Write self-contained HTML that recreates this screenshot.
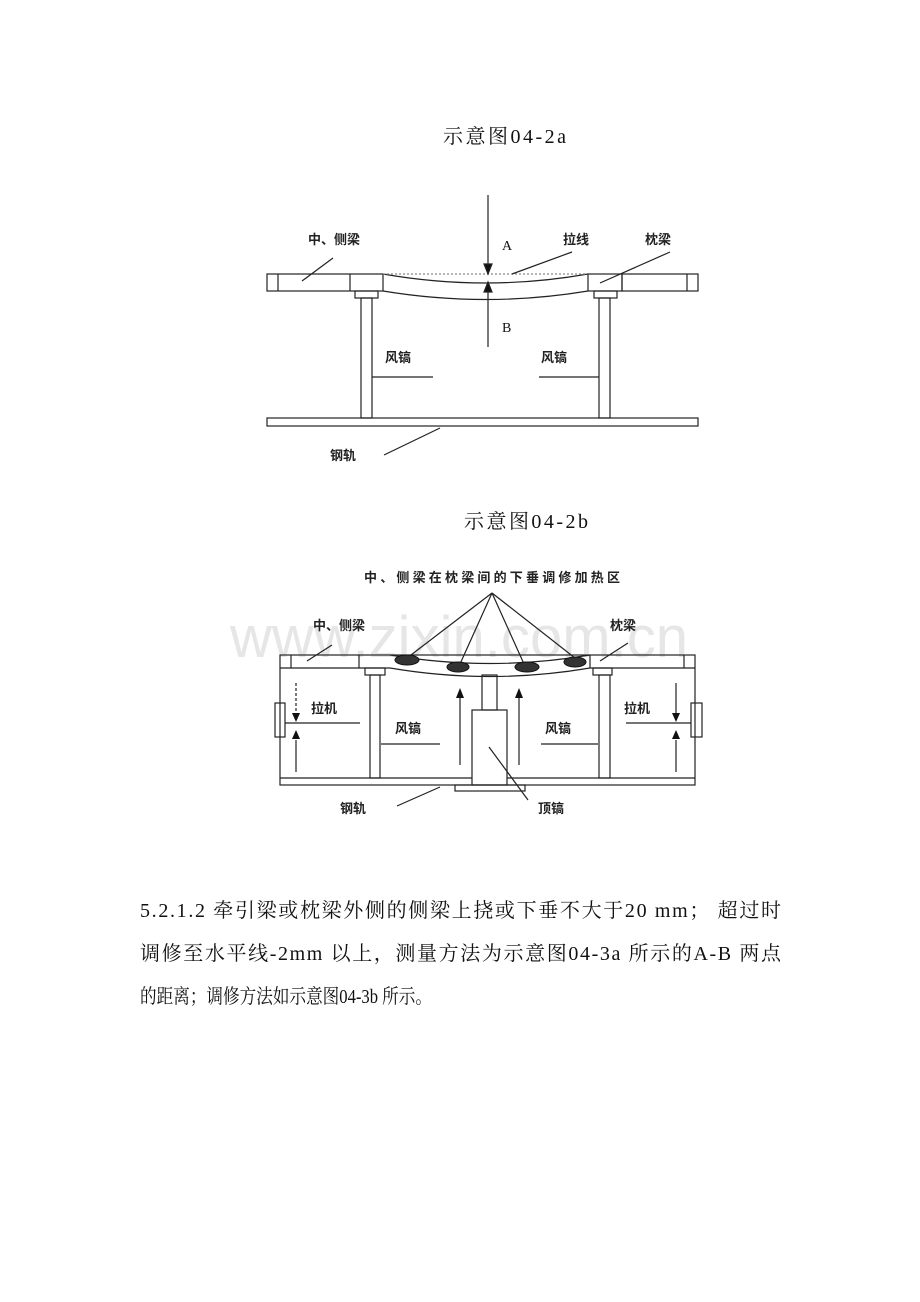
<!DOCTYPE html>
<html><head><meta charset="utf-8"><style>
html,body{margin:0;padding:0;background:#fff;}
svg{display:block;}
.t{font-family:"Liberation Serif","Noto Sans CJK SC",sans-serif;fill:#111;}
.p{font-family:"Liberation Serif","Noto Serif CJK SC",serif;fill:#111;font-size:20px;}
.s{font-family:"Liberation Sans","Noto Sans CJK SC",sans-serif;fill:#222;font-size:13px;font-weight:bold;}
</style></head><body>
<svg width="920" height="1302" viewBox="0 0 920 1302" xmlns="http://www.w3.org/2000/svg">
<text class="p" x="443" y="143" textLength="123">示意图04-2a</text>

<!-- Diagram a -->
<g stroke="#222" stroke-width="1.2" fill="none">
<rect x="267" y="274" width="116" height="17"/>
<line x1="278" y1="274" x2="278" y2="291"/><line x1="350" y1="274" x2="350" y2="291"/>
<rect x="355" y="291" width="23" height="7"/>
<path d="M383,274 Q486,292 588,274"/>
<path d="M383,291 Q486,308 588,291"/>
<line x1="383" y1="274" x2="588" y2="274" stroke-dasharray="2,2" stroke="#888"/>
<rect x="588" y="274" width="34" height="17"/>
<rect x="622" y="274" width="76" height="17"/>
<line x1="687" y1="274" x2="687" y2="291"/>
<rect x="594" y="291" width="23" height="7"/>
<rect x="361" y="298" width="11" height="120"/>
<rect x="599" y="298" width="11" height="120"/>
<rect x="267" y="418" width="431" height="8"/>
<line x1="488" y1="195" x2="488" y2="266"/>
<path d="M484,264 L492,264 L488,274 z" fill="#111"/>
<line x1="488" y1="290" x2="488" y2="347"/>
<path d="M484,292 L492,292 L488,282 z" fill="#111"/>
<line x1="333" y1="258" x2="302" y2="281"/>
<line x1="572" y1="252" x2="512" y2="274"/>
<line x1="670" y1="252" x2="600" y2="283"/>
<line x1="384" y1="455" x2="440" y2="428"/>
<line x1="372" y1="377" x2="433" y2="377"/>
<line x1="539" y1="377" x2="599" y2="377"/>
</g>
<text class="s" x="308" y="244">中、侧梁</text>
<text class="t" x="502" y="250" font-size="14">A</text>
<text class="t" x="502" y="332" font-size="14">B</text>
<text class="s" x="563" y="244">拉线</text>
<text class="s" x="645" y="244">枕梁</text>
<text class="s" x="385" y="362">风镐</text>
<text class="s" x="541" y="362">风镐</text>
<text class="s" x="330" y="460">钢轨</text>

<text class="p" x="464" y="528" textLength="124">示意图04-2b</text>

<!-- watermark -->
<text x="230" y="657" font-family="Liberation Sans,sans-serif" font-size="58" fill="#e6e6e6" textLength="458">www.zixin.com.cn</text>

<!-- Diagram b -->
<text class="s" x="364" y="582" textLength="256">中、侧梁在枕梁间的下垂调修加热区</text>
<g stroke="#222" stroke-width="1.2" fill="none">
<rect x="280" y="655" width="415" height="130"/>
<line x1="280" y1="668" x2="390" y2="668"/>
<line x1="590" y1="668" x2="695" y2="668"/>
<line x1="291" y1="655" x2="291" y2="668"/><line x1="359" y1="655" x2="359" y2="668"/>
<line x1="590" y1="655" x2="590" y2="668"/><line x1="684" y1="655" x2="684" y2="668"/>
<path d="M390,655 Q490,672 590,655"/>
<path d="M390,668 Q490,685 590,668"/>
<rect x="365" y="668" width="20" height="7"/>
<rect x="593" y="668" width="19" height="7"/>
<rect x="370" y="675" width="10" height="103"/>
<rect x="599" y="675" width="11" height="103"/>
<line x1="280" y1="778" x2="472" y2="778"/><line x1="507" y1="778" x2="695" y2="778"/>
<rect x="482" y="675" width="15" height="35"/>
<rect x="472" y="710" width="35" height="75"/>
<rect x="455" y="785" width="70" height="6"/>
<line x1="492" y1="593" x2="407" y2="658"/>
<line x1="492" y1="593" x2="460" y2="664"/>
<line x1="492" y1="593" x2="524" y2="664"/>
<line x1="492" y1="593" x2="575" y2="658"/>
<rect x="275" y="703" width="10" height="34"/>
<rect x="691" y="703" width="11" height="34"/>
<line x1="285" y1="723" x2="360" y2="723"/>
<line x1="626" y1="723" x2="691" y2="723"/>
<line x1="296" y1="683" x2="296" y2="714" stroke-dasharray="3,2"/>
<line x1="296" y1="740" x2="296" y2="772"/>
<line x1="676" y1="683" x2="676" y2="714"/>
<line x1="676" y1="740" x2="676" y2="772"/>
<line x1="460" y1="698" x2="460" y2="765"/>
<line x1="519" y1="698" x2="519" y2="765"/>
<line x1="381" y1="744" x2="440" y2="744"/>
<line x1="541" y1="744" x2="598" y2="744"/>
<line x1="332" y1="645" x2="307" y2="661"/>
<line x1="628" y1="643" x2="600" y2="661"/>
<line x1="397" y1="806" x2="440" y2="787"/>
<line x1="489" y1="747" x2="528" y2="800"/>
</g>
<g fill="#111">
<path d="M292,713 L300,713 L296,722 z"/><path d="M292,739 L300,739 L296,730 z"/>
<path d="M672,713 L680,713 L676,722 z"/><path d="M672,739 L680,739 L676,730 z"/>
<path d="M456,698 L464,698 L460,688 z"/><path d="M515,698 L523,698 L519,688 z"/>
</g>
<g fill="#333" stroke="#111" stroke-width="1">
<ellipse cx="407" cy="660" rx="12" ry="5"/>
<ellipse cx="458" cy="667" rx="11" ry="5"/>
<ellipse cx="527" cy="667" rx="12" ry="5"/>
<ellipse cx="575" cy="662" rx="11" ry="5"/>
</g>
<text class="s" x="313" y="630">中、侧梁</text>
<text class="s" x="610" y="630">枕梁</text>
<text class="s" x="311" y="713">拉机</text>
<text class="s" x="624" y="713">拉机</text>
<text class="s" x="395" y="733">风镐</text>
<text class="s" x="545" y="733">风镐</text>
<text class="s" x="340" y="813">钢轨</text>
<text class="s" x="538" y="813">顶镐</text>

<!-- paragraph -->
<text class="p" x="140" y="917" textLength="641">5.2.1.2 牵引梁或枕梁外侧的侧梁上挠或下垂不大于20 mm； 超过时</text>
<text class="p" x="140" y="960" textLength="641">调修至水平线-2mm 以上，测量方法为示意图04-3a 所示的A-B 两点</text>
<text class="p" x="140" y="1003" textLength="292" lengthAdjust="spacingAndGlyphs">的距离；调修方法如示意图04-3b 所示。</text>
</svg>
</body></html>
